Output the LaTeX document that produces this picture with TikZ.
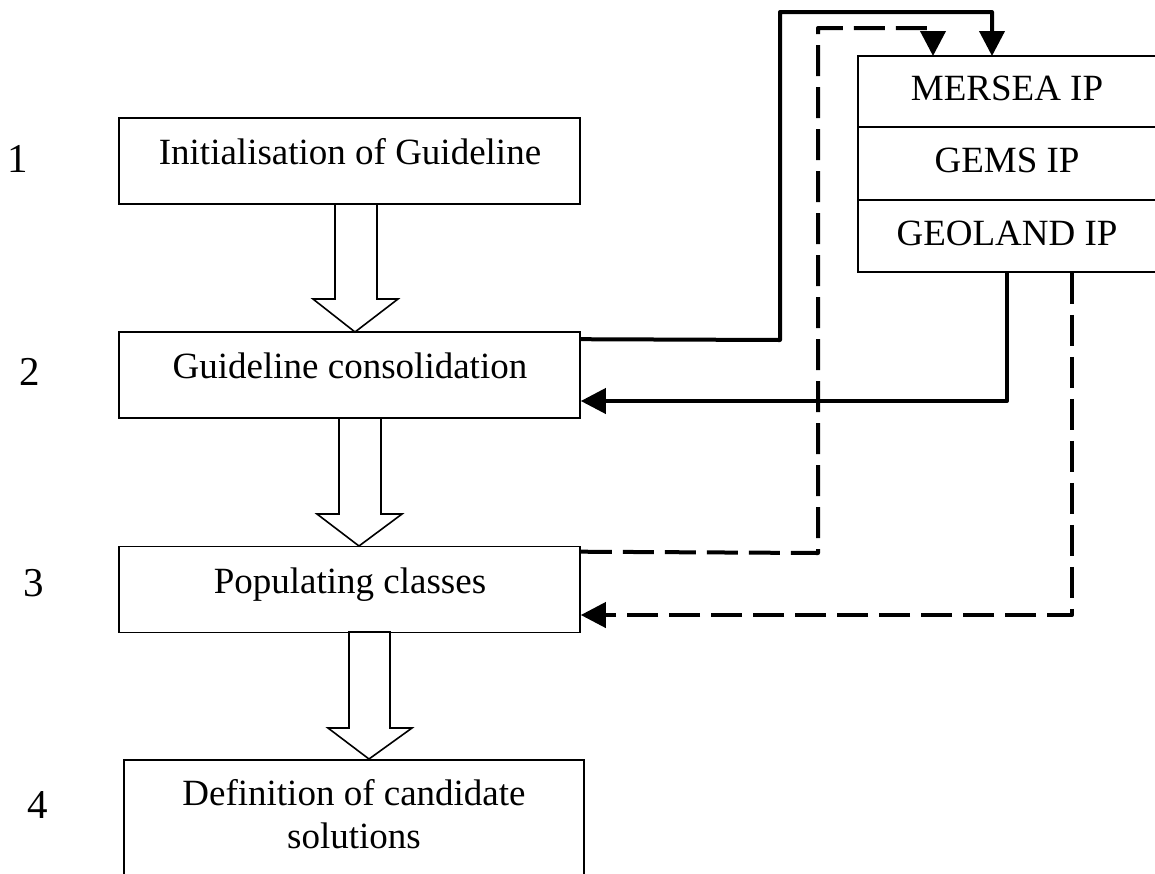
\documentclass[tikz,border=0pt]{standalone}
\usepackage{fontspec}
\setmainfont{Liberation Serif}
\usetikzlibrary{arrows.meta,calc}
\begin{document}
\begin{tikzpicture}[x=1pt,y=-1pt,
  boxstyle/.style={draw=black,line width=1.6pt,fill=white,inner sep=0pt,minimum width=461pt,minimum height=86pt},
  rowstyle/.style={draw=black,line width=1.6pt,inner sep=0pt,minimum width=298pt,font=\fontsize{37}{43}\selectfont,text height=25pt,text depth=7pt},
  boxtext/.style={anchor=base,inner sep=0pt,font=\fontsize{37}{43}\selectfont},
  numstyle/.style={anchor=base,inner sep=0pt,font=\fontsize{41}{48}\selectfont},
  blockarrow/.style={draw=black,line width=1.6pt,fill=white,line join=miter},
  conn/.style={line width=4pt,line join=round,-{Triangle[length=25pt,width=25pt]}},
  dconn/.style={conn,dash pattern=on 31pt off 11pt}
]
\useasboundingbox (0,0) rectangle (1155,873);

% boxes
\node[boxstyle] (b1) at (349.5,161) {};
\node[boxstyle] (b2) at (349.5,375) {};
\node[boxstyle] (b3) at (349.5,589.5) {};
\node[boxstyle,minimum width=460pt,minimum height=140pt] (b4) at (354,830) {};

% block arrows
\draw[blockarrow] (335,204) -- (335,299) -- (313,299) -- (355,332) -- (398,299) -- (377,299) -- (377,204) -- cycle;
\draw[blockarrow] (339,418) -- (339,514) -- (317,514) -- (359,546) -- (402,514) -- (381,514) -- (381,418) -- cycle;
\draw[blockarrow] (349,632) -- (349,728) -- (328,728) -- (369,759) -- (412,728) -- (390,728) -- (390,632) -- cycle;

\node[boxtext] (t1) at (350,164) {Initialisation of Guideline};
\node[boxtext] (t2) at (350,378) {Guideline consolidation};
\node[boxtext] (t3) at (350,593) {Populating classes};
\node[boxtext,align=center] (t4) at (354,848) {Definition of candidate\\solutions};

% step numbers
\node[numstyle] (n1) at (18,172) {1};
\node[numstyle] (n2) at (30,385) {2};
\node[numstyle] (n3) at (34,596) {3};
\node[numstyle] (n4) at (38,818) {4};

% IP stack
\node[rowstyle,minimum height=71pt] (m1) at (1007,91.5) {MERSEA IP};
\node[rowstyle,minimum height=73pt] (m2) at (1007,163.5) {GEMS IP};
\node[rowstyle,minimum height=72pt] (m3) at (1007,236) {GEOLAND IP};

% connectors
\coordinate (s1) at ([yshift=-8pt]b2.north east);
\coordinate (s2) at ([yshift=-26pt]b2.east);
\coordinate (d1) at ([yshift=-6pt]b3.north east);
\coordinate (d2) at ([yshift=-25.5pt]b3.east);
\draw[conn] (s1) -- (780,340) -- (780,12) -- (992,12) -- (992,56) coordinate (mt1);
\draw[dconn] (d1) -- (818,553) -- (818,28) -- (933,28) -- (933,56) coordinate (mt2);
\draw[conn] (m3.south -| 1007,0) -- (1007,401) -- (s2);
\draw[dconn] (m3.south -| 1072,0) -- (1072,615) -- (d2);
\end{tikzpicture}
\end{document}
